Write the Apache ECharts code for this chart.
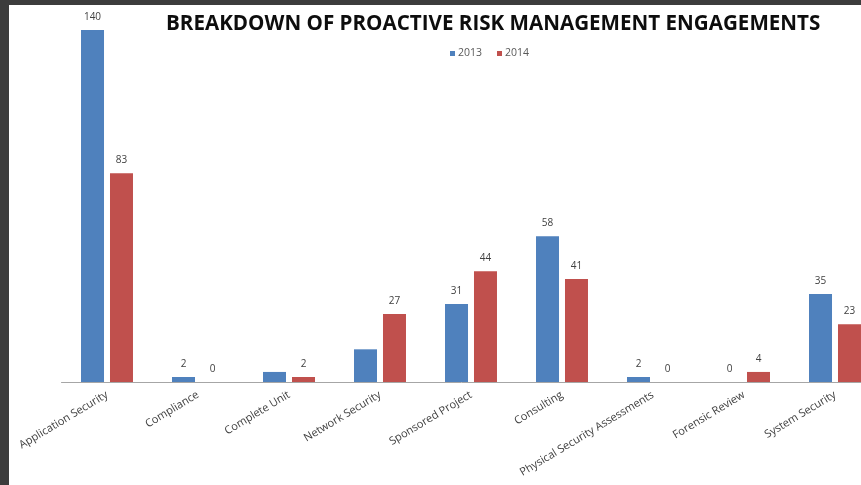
<!DOCTYPE html>
<html>
<head>
<meta charset="utf-8">
<script src="https://cdn.jsdelivr.net/npm/echarts@6/dist/echarts.min.js"></script>
<style>
html,body{margin:0;padding:0;background:#3c3c3c;width:861px;height:485px;overflow:hidden;}
#chart{position:absolute;left:9px;top:5px;width:852px;height:480px;background:#ffffff;}
</style>
</head>
<body>
<div id="chart"></div>
<script>
const categories = ["Application Security","Compliance","Complete Unit","Network Security","Sponsored Project","Consulting","Physical Security Assessments","Forensic Review","System Security"];
const values2013 = [140, 2, 4, 13, 31, 58, 2, 0, 35];
const values2014 = [83, 0, 2, 27, 44, 41, 0, 4, 23];
const hiddenLabels2013 = [2, 3];
const hiddenLabels2014 = [];
const seriesNames = ["2013", "2014"];
const titleText = "BREAKDOWN OF PROACTIVE RISK MANAGEMENT ENGAGEMENTS";

function toData(vals, hidden) {
  return vals.map((v, i) => hidden.includes(i) ? { value: v, label: { show: false } } : v);
}

const chart = echarts.init(document.getElementById('chart'), null, { renderer: 'canvas' });
const labelStyle = { show: true, position: 'top', distance: 8, color: '#404040', fontSize: 10, fontFamily: 'Open Sans' };
chart.setOption({
  animation: false,
  backgroundColor: '#ffffff',
  title: {
    text: titleText,
    left: 152, top: 4,
    textStyle: { fontFamily: 'Open Sans', fontWeight: 'bold', fontSize: 20.6, color: '#0d0d0d' }
  },
  legend: {
    data: seriesNames,
    left: 436, top: 38,
    itemWidth: 5, itemHeight: 5, itemGap: 15,
    icon: 'rect',
    textStyle: { fontFamily: 'Open Sans', fontSize: 10.5, color: '#595959', padding: [0, 0, 0, -2] }
  },
  grid: { left: 52.5, width: 819, top: 25, bottom: 103, containLabel: false, outerBoundsMode: 'none' },
  xAxis: {
    type: 'category',
    data: categories,
    axisLine: { show: true, lineStyle: { color: '#a6a6a6', width: 1 } },
    axisTick: { show: false },
    axisLabel: { rotate: 31, margin: 12, color: '#404040', fontSize: 11, fontFamily: 'Open Sans', interval: 0 }
  },
  yAxis: {
    type: 'value', min: 0, max: 140,
    show: false,
    splitLine: { show: false }
  },
  series: [
    { name: seriesNames[0], type: 'bar', data: toData(values2013, hiddenLabels2013), barWidth: 23, barGap: '26%',
      itemStyle: { color: '#4F81BD' }, label: labelStyle },
    { name: seriesNames[1], type: 'bar', data: toData(values2014, hiddenLabels2014), barWidth: 23,
      itemStyle: { color: '#C0504D' }, label: labelStyle }
  ]
});
</script>
</body>
</html>
